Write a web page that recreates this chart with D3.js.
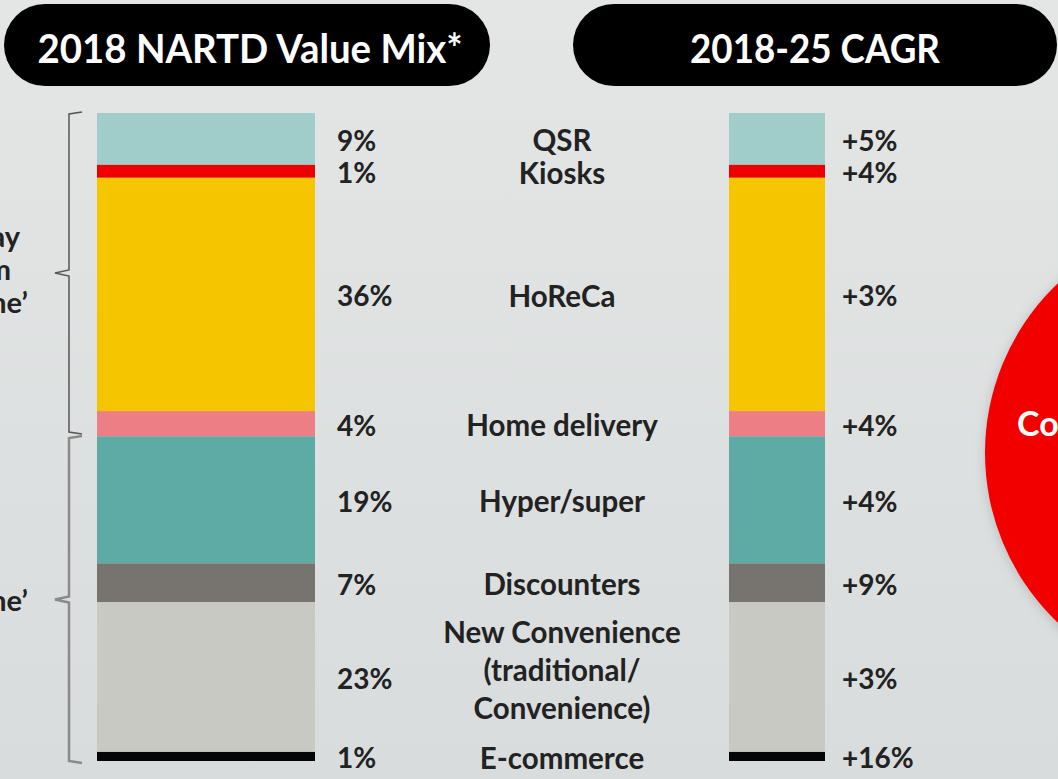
<!DOCTYPE html>
<html>
<head>
<meta charset="utf-8">
<title>NARTD Value Mix</title>
<style>
    body { margin: 0; background: #dcdfdf; overflow: hidden; }
    svg { display: block; font-family: Lato, "Open Sans", sans-serif; font-weight: bold; }
</style>
</head>
<body>
<svg width="1058" height="779"></svg>
<script src="https://cdn.jsdelivr.net/npm/d3@7"></script>
<script>

    // channels, top to bottom of the stacked bars
    var channels = [["QSR"], ["Kiosks"], ["HoReCa"], ["Home delivery"], ["Hyper/super"], ["Discounters"],
        ["New Convenience", "(traditional/", "Convenience)"], ["E-commerce"]];
    var mixLabels = ["9%", "1%", "36%", "4%", "19%", "7%", "23%", "1%"];
    // segment heights as drawn on the slide (% of bar)
    var barShare = [8.0, 2.0, 36.0, 3.9, 19.6, 6.0, 23.1, 1.4];
    var cagrLabels = ["+5%", "+4%", "+3%", "+4%", "+4%", "+9%", "+3%", "+16%"];
    var colors = ["#a0ccc9", "#ee0000", "#f5c500", "#ee7e86", "#5eaaa4", "#77736f", "#c9c9c4", "#050505"];

    var svg = d3.select("svg"),
        W = +svg.attr("width"),
        H = +svg.attr("height");

    // background
    var defs = svg.append("defs");
    var bg = defs.append("linearGradient").attr("id", "bg").attr("x1", 0).attr("y1", 0).attr("x2", 0).attr("y2", 1);
    bg.append("stop").attr("offset", "0%").attr("stop-color", "#e4e6e6");
    bg.append("stop").attr("offset", "100%").attr("stop-color", "#d9dcdc");
    var glow = defs.append("filter").attr("id", "shadow").attr("x", "-20%").attr("y", "-20%").attr("width", "140%").attr("height", "140%");
    glow.append("feGaussianBlur").attr("stdDeviation", 6);
    svg.append("rect").attr("width", W).attr("height", H).attr("fill", "url(#bg)");

    // header pills
    var pills = [{x: 4, w: 486, tx: 250, len: 425, text: "2018 NARTD Value Mix*"},
        {x: 573, w: 484, tx: 815, len: 250, text: "2018-25 CAGR"}];
    var pill = svg.selectAll(".pill").data(pills).enter().append("g").attr("class", "pill");
    pill.append("rect")
        .attr("x", function (d) { return d.x; })
        .attr("y", 4)
        .attr("width", function (d) { return d.w; })
        .attr("height", 82)
        .attr("rx", 41)
        .attr("fill", "#000");
    pill.append("text")
        .attr("x", function (d) { return d.tx; })
        .attr("y", 63)
        .attr("text-anchor", "middle")
        .attr("fill", "#fff")
        .attr("font-size", 40)
        .attr("textLength", function (d) { return d.len; })
        .attr("lengthAdjust", "spacingAndGlyphs")
        .text(function (d) { return d.text; });

    // stacked bars
    var y = d3.scaleLinear().domain([0, 100]).range([113, 761]);
    var ends = d3.cumsum(barShare);
    var segs = barShare.map(function (v, i) {
        return {i: i, y0: ends[i] - v, y1: ends[i]};
    });

    var columns = [{x: 97, w: 218}, {x: 729, w: 96}];
    columns.forEach(function (c) {
        svg.append("g").selectAll("rect")
            .data(segs)
            .enter().append("rect")
            .attr("x", c.x)
            .attr("width", c.w)
            .attr("y", function (d) { return y(d.y0); })
            .attr("height", function (d) { return y(d.y1) - y(d.y0); })
            .attr("fill", function (d) { return colors[d.i]; });
    });

    function mid(d) { return (y(d.y0) + y(d.y1)) / 2 + 2; }

    // mix labels
    svg.append("g").selectAll("text")
        .data(segs)
        .enter().append("text")
        .attr("x", 337)
        .attr("y", mid)
        .attr("dy", "0.35em")
        .attr("font-size", 28)
        .attr("fill", "#222")
        .text(function (d) { return mixLabels[d.i]; });

    // channel names
    var names = svg.append("g").selectAll("text")
        .data(segs)
        .enter().append("text")
        .attr("text-anchor", "middle")
        .attr("font-size", 29.5)
        .attr("fill", "#222");
    names.selectAll("tspan")
        .data(function (d) {
            var n = channels[d.i].length,
                top = mid(d) - (n - 1) * 19 - (n > 1 ? 8 : 0);
            return channels[d.i].map(function (s, k) { return {s: s, y: top + k * 38}; });
        })
        .enter().append("tspan")
        .attr("x", 562)
        .attr("y", function (d) { return d.y; })
        .attr("dy", "0.35em")
        .text(function (d) { return d.s; });

    // CAGR labels
    svg.append("g").selectAll("text")
        .data(segs)
        .enter().append("text")
        .attr("x", 842)
        .attr("y", mid)
        .attr("dy", "0.35em")
        .attr("font-size", 28)
        .attr("fill", "#222")
        .text(function (d) { return cagrLabels[d.i]; });

    // left braces (the group names run off the left edge of the slide crop)
    var braces = [{top: y(0) - 1, bot: 434, color: "#555", w: 1.5, lines: ["\u2018Away", "from", "home\u2019"], ty: 247},
        {top: 436, bot: y(100) + 2, color: "#8a8a8a", w: 2.5, lines: ["\u2018At home\u2019"], ty: 611}];
    braces.forEach(function (b) {
        var m = (b.top + b.bot) / 2;
        svg.append("path")
            .attr("d", "M82," + b.top + " L69," + (b.top + 2) + " L69," + (m - 3) + " L55," + m +
                " L69," + (m + 3) + " L69," + (b.bot - 2) + " L82," + b.bot)
            .attr("fill", "none")
            .attr("stroke", b.color)
            .attr("stroke-width", b.w);
        svg.append("text")
            .attr("text-anchor", "end")
            .attr("font-size", 29)
            .attr("fill", "#222")
            .selectAll("tspan")
            .data(b.lines)
            .enter().append("tspan")
            .attr("x", function (d, i) { return b.lines.length > 1 ? [20, 11, 28][i] : 28; })
            .attr("y", function (d, i) { return b.ty + i * 33; })
            .text(function (d) { return d; });
    });

    // red circle on the right edge
    svg.append("circle").attr("cx", 1221).attr("cy", 455).attr("r", 236).attr("fill", "#9a9a9a")
        .attr("opacity", 0.5).attr("filter", "url(#shadow)");
    svg.append("circle").attr("cx", 1219).attr("cy", 453).attr("r", 234).attr("fill", "#f20000");
    svg.append("text")
        .attr("x", 1017)
        .attr("y", 436)
        .attr("font-size", 34)
        .attr("fill", "#fff")
        .text("Co");

</script>
</body>
</html>
